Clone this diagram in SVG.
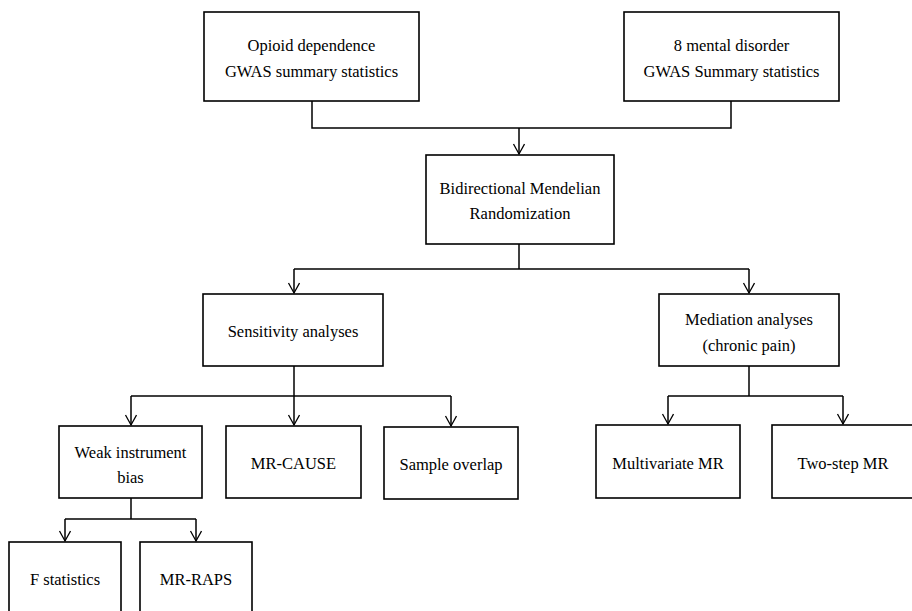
<svg xmlns="http://www.w3.org/2000/svg" width="912" height="611" viewBox="0 0 912 611">
<style>
.box{fill:#fff;stroke:#000;stroke-width:1.6}
.t{font-family:"Liberation Serif","Times New Roman",serif;font-size:16.5px;fill:#000;text-anchor:middle;dominant-baseline:central}
.c{fill:none;stroke:#000;stroke-width:1.5}
</style>
<defs>
<marker id="ah" markerWidth="14" markerHeight="14" refX="11" refY="6" orient="auto" markerUnits="userSpaceOnUse">
<path d="M1,0.5 L11,6 L1,11.5" fill="none" stroke="#000" stroke-width="1.3"/>
</marker>
</defs>
<rect width="912" height="611" fill="#fff"/>
<g id="connectors">
<path class="c" d="M312,101 V128 H731 V101"/>
<path class="c" d="M519,128 V154" marker-end="url(#ah)"/>
<path class="c" d="M519,244 V269"/>
<path class="c" d="M294,269 H749"/>
<path class="c" d="M294,269 V293" marker-end="url(#ah)"/>
<path class="c" d="M749,269 V293" marker-end="url(#ah)"/>
<path class="c" d="M294,366 V396"/>
<path class="c" d="M131,396 H451"/>
<path class="c" d="M131,396 V425" marker-end="url(#ah)"/>
<path class="c" d="M294,396 V425" marker-end="url(#ah)"/>
<path class="c" d="M451,396 V426" marker-end="url(#ah)"/>
<path class="c" d="M749,366 V396"/>
<path class="c" d="M668,396 H843"/>
<path class="c" d="M668,396 V424" marker-end="url(#ah)"/>
<path class="c" d="M843,396 V424" marker-end="url(#ah)"/>
<path class="c" d="M131,498 V519"/>
<path class="c" d="M65,519 H196"/>
<path class="c" d="M65,519 V541" marker-end="url(#ah)"/>
<path class="c" d="M196,519 V541" marker-end="url(#ah)"/>
</g>
<g id="opioid">
<rect class="box" x="204" y="12" width="215" height="89"/>
<text class="t" x="311.5" y="45">Opioid dependence</text>
<text class="t" x="311.5" y="71">GWAS summary statistics</text>
</g>
<g id="mental">
<rect class="box" x="624" y="12" width="215" height="89"/>
<text class="t" x="731.5" y="45">8 mental disorder</text>
<text class="t" x="731.5" y="71">GWAS Summary statistics</text>
</g>
<g id="bidirectional">
<rect class="box" x="426" y="155" width="188" height="89"/>
<text class="t" x="520" y="188">Bidirectional Mendelian</text>
<text class="t" x="520" y="213">Randomization</text>
</g>
<g id="sensitivity">
<rect class="box" x="203" y="294" width="180" height="72"/>
<text class="t" x="293" y="331">Sensitivity analyses</text>
</g>
<g id="mediation">
<rect class="box" x="659" y="294" width="180" height="72"/>
<text class="t" x="749" y="319">Mediation analyses</text>
<text class="t" x="749" y="345">(chronic pain)</text>
</g>
<g id="weak">
<rect class="box" x="59" y="426" width="143" height="72"/>
<text class="t" x="130.5" y="452">Weak instrument</text>
<text class="t" x="130.5" y="477">bias</text>
</g>
<g id="mrcause">
<rect class="box" x="226" y="426" width="135" height="72"/>
<text class="t" x="293.5" y="463">MR-CAUSE</text>
</g>
<g id="overlap">
<rect class="box" x="384" y="427" width="134" height="72"/>
<text class="t" x="451" y="464">Sample overlap</text>
</g>
<g id="multivariate">
<rect class="box" x="596" y="425" width="144" height="73"/>
<text class="t" x="668" y="463">Multivariate MR</text>
</g>
<g id="twostep">
<rect class="box" x="772" y="425" width="145" height="73"/>
<text class="t" x="843" y="463">Two-step MR</text>
</g>
<g id="fstat">
<rect class="box" x="9" y="542" width="112" height="80"/>
<text class="t" x="65" y="579">F statistics</text>
</g>
<g id="mrraps">
<rect class="box" x="140" y="542" width="112" height="80"/>
<text class="t" x="196" y="579">MR-RAPS</text>
</g>
</svg>
